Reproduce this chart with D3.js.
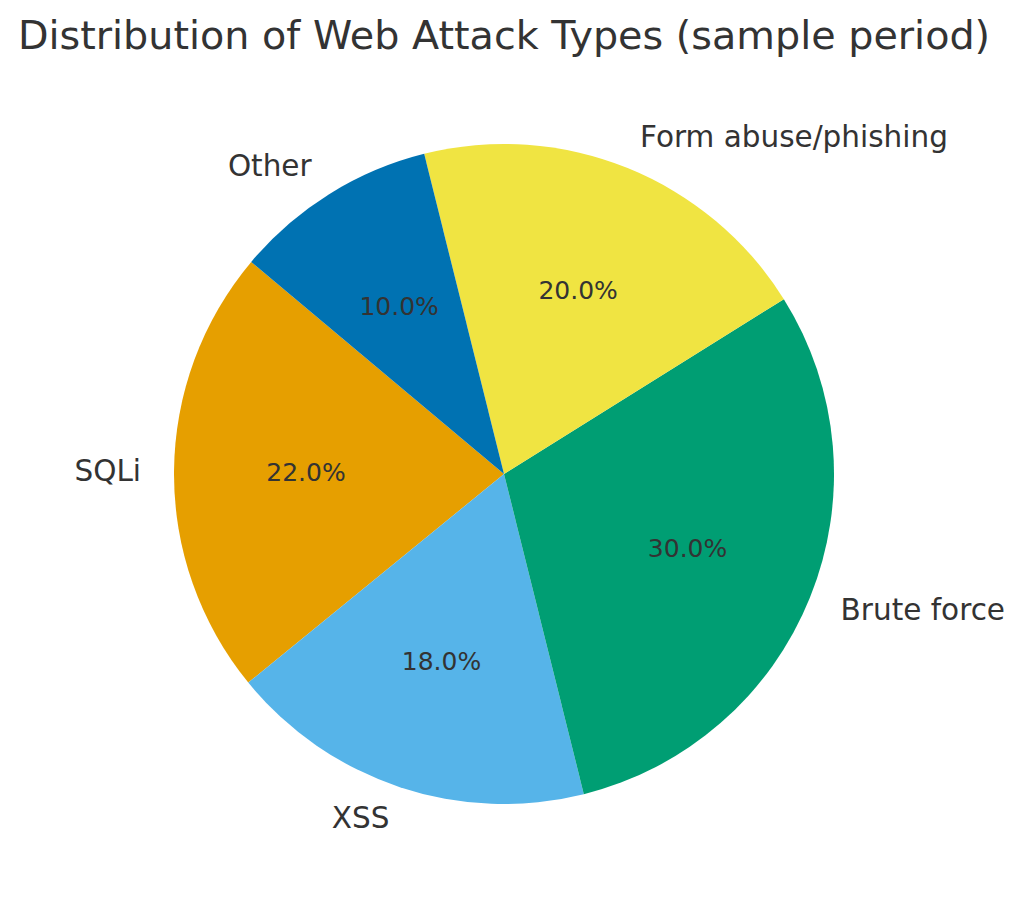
<!DOCTYPE html>
<html>
<head>
<meta charset="utf-8">
<script src="https://cdn.jsdelivr.net/npm/d3@7"></script>
<style>
  body { margin: 0; background: #fff; }
  svg text { font-family: "DejaVu Sans", sans-serif; fill: #333333; }
</style>
</head>
<body>
<div id="chart"></div>
<script>
// données, dans l'ordre d'origine (sens anti-horaire depuis 140°)
const categories = ["SQLi", "XSS", "Brute force", "Form abuse/phishing", "Other"];
const shares = [22, 18, 30, 20, 10];
const colors = ["#E69F00", "#56B4E9", "#009E73", "#F0E442", "#0072B2"];
const title = "Distribution of Web Attack Types (sample period)";

const width = 1024, height = 904;
const cx = 504, cy = 474, radius = 330;

const svg = d3.select("#chart").append("svg")
    .attr("width", width).attr("height", height);

svg.append("text")
    .attr("x", cx).attr("y", 35)
    .attr("text-anchor", "middle").attr("dominant-baseline", "central")
    .style("font-size", "39.7px")
    .text(title);

const data = categories.map((c, i) => ({ label: c, value: shares[i], color: colors[i] }));

// startangle = 140° (matplotlib) -> angle d3 = 90 - 140 = -50°, sens anti-horaire
const start = -50 * Math.PI / 180;
const pie = d3.pie().sort(null).value(d => d.value)
    .startAngle(start).endAngle(start - 2 * Math.PI);

const arcs = pie(data);
const total = d3.sum(shares);

const g = svg.append("g").attr("transform", `translate(${cx},${cy})`);

const arc = d3.arc().innerRadius(0).outerRadius(radius);

g.selectAll("path").data(arcs).enter().append("path")
    .attr("d", arc)
    .attr("fill", d => d.data.color);

// position à une fraction du rayon, sur l'angle médian
function at(d, f) {
    const a = (d.startAngle + d.endAngle) / 2;
    return [Math.sin(a) * radius * f, -Math.cos(a) * radius * f];
}

g.selectAll("text.pct").data(arcs).enter().append("text")
    .attr("class", "pct")
    .attr("x", d => at(d, 0.6)[0]).attr("y", d => at(d, 0.6)[1])
    .attr("text-anchor", "middle").attr("dominant-baseline", "central")
    .style("font-size", "25px")
    .text(d => (100 * d.data.value / total).toFixed(1) + "%");

g.selectAll("text.lbl").data(arcs).enter().append("text")
    .attr("class", "lbl")
    .attr("x", d => at(d, 1.1)[0]).attr("y", d => at(d, 1.1)[1])
    .attr("text-anchor", d => at(d, 1.1)[0] > 0 ? "start" : "end")
    .attr("dominant-baseline", "central")
    .style("font-size", "29.5px")
    .text(d => d.data.label);
</script>
</body>
</html>
